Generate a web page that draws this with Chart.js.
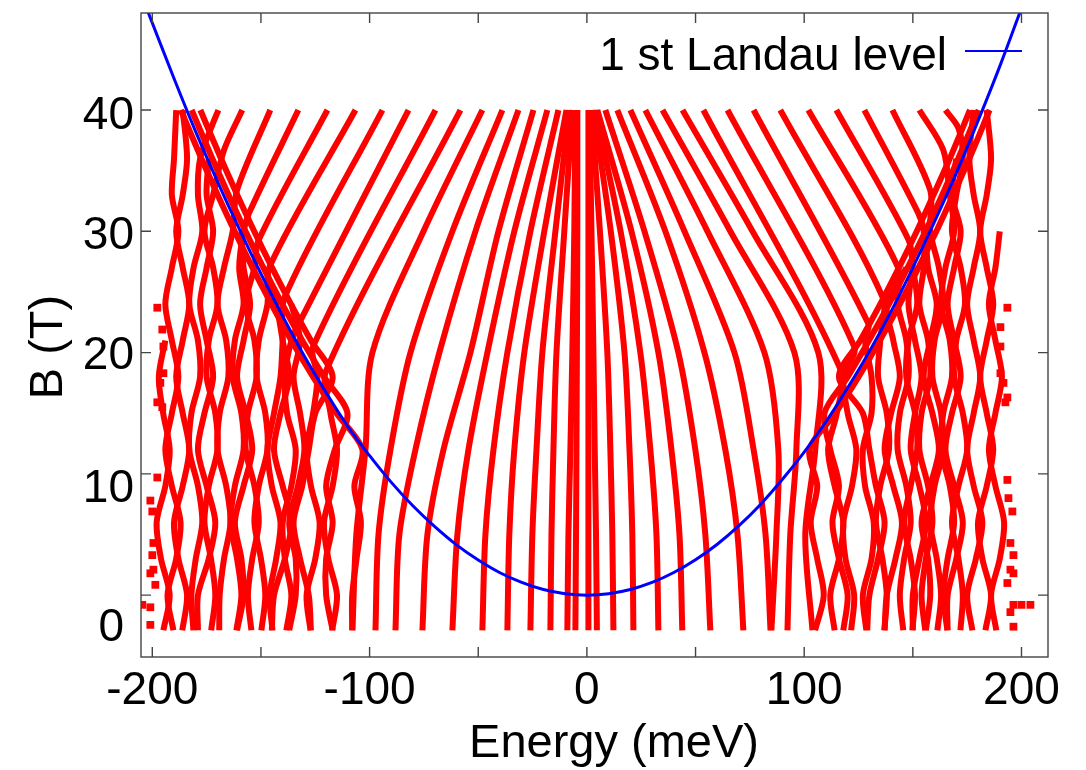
<!DOCTYPE html>
<html>
<head>
<meta charset="utf-8">
<script src="https://cdn.jsdelivr.net/npm/chart.js@4.4.1/dist/chart.umd.min.js"></script>
<style>
  html, body { margin: 0; padding: 0; background: #fff; }
</style>
</head>
<body>
<canvas id="chart" width="1086" height="770"></canvas>
<script>
// Landau levels vs field: energy (meV) on x, B (T) on y

// ticks
const xTicks = [-200, -150, -100, -50, 0, 50, 100, 150, 200];
const xTickLabels = [-200, -100, 0, 100, 200];
const yTicks = [0, 10, 20, 30, 40];
const yTickLabels = ['0', '10', '20', '30', '40'];
const yLabelAt = [-2.4, 9.05, 20.0, 29.9, 39.8];   // where the labels sit in the picture

// blue curve: 1st Landau level
const blueE = [-202, -190, -180, -170, -160, -150, -140, -130, -120, -110, -100, -90, -80, -70, -60, -50, -40, -30, -20, -10, 0,
               10, 20, 30, 40, 50, 60, 70, 80, 90, 100, 110, 120, 130, 140, 150, 160, 170, 180, 190, 200];
const blueB = [48.1, 42.6, 38.2, 34.1, 30.2, 26.5, 23.0, 19.7, 16.7, 13.9, 11.5, 9.3, 7.35, 5.65, 4.15, 2.9, 1.85, 1.05, 0.46, 0.12, 0,
               0.12, 0.47, 1.05, 1.87, 2.92, 4.2, 5.73, 7.5, 9.55, 11.8, 14.3, 17.1, 20.1, 23.4, 27.0, 30.8, 34.8, 39.1, 43.6, 48.4];

// inner fan of levels converging to zero energy (E at each fanB)
const fanB = [40, 30, 20, 12, 5, -2.9];
const fanLeft = [
  [-4.4, -4.4, -4.6, -4.8, -5.0, -5.3],
  [-5.3, -5.8, -6.7, -7.6, -8.5, -9.0],
  [-6.7, -10.4, -14.0, -15.4, -16.3, -16.8],
  [-8.1, -14.5, -20.5, -23.2, -25.1, -26.0],
  [-9.4, -19.6, -28.8, -33.4, -35.7, -36.6],
  [-13.1, -26.0, -36.6, -43.0, -46.7, -48.1],
  [-18.2, -33.4, -45.8, -54.5, -59.6, -61.9],
  [-24.6, -40.7, -53.6, -66.0, -73.4, -75.7],
  [-31.5, -51.3, -67.9, -78.9, -86.3, -88.1],
  [-38.9, -61.9, -81.2, -90.4, -95.9, -97.3],
  [-48.1, -75.2, -98.7, -101.9, -106.1, -107.9]
];
const fanRight = [
  [1.15, 2.1, 3.0, 3.6, 4.2, 4.6],
  [2.1, 6.0, 9.4, 10.8, 11.7, 12.2],
  [3.0, 11.0, 17.3, 19.6, 20.9, 21.4],
  [3.9, 15.5, 24.6, 29.2, 32.0, 32.9],
  [4.8, 20.5, 32.9, 38.9, 42.6, 43.9],
  [8.5, 26.5, 42.1, 49.9, 54.5, 56.8],
  [14.0, 36.1, 54.1, 63.7, 69.3, 72.0],
  [20.0, 44.9, 67.9, 76.7, 82.2, 84.5],
  [26.9, 55.5, 81.7, 88.1, 87.2, 84.9],
  [34.8, 66.0, 95.5, 96.4, 93.6, 92.3],
  [44.0, 76.2, 106.5, 105.1, 100.5, 103.8]
];
const centerE = [0.7, 0.7, 0.7, 0.7, 0.7, 0.7];

// outer levels: wiggly low-field part on outerB, then a kink and a straight run to B = 40
const outerB = [-2.9, 0, 3, 6, 9, 12, 15, 18, 21, 24, 27, 30, 33, 36, 40];
const diagRightTop = [53.6, 64.7, 76.7, 89.0, 101.9, 114.8, 127.7, 140.6, 153.0, 165.0];
const kinkRightE = [117, 123, 129.5, 136, 143, 148, 152.5, 158, 164, 171];
const kinkRightB = [18.5, 20.5, 22.4, 24.6, 27.1, 29.3, 31.5, 33.4, 36.7, 38.5];
const lowRight = [
  [114, 112, 116, 118, 114, 111, 115],
  [121.6, 123, 119, 118, 122, 124, 120, 118],
  [128.6, 127, 131, 132, 128, 127, 131, 131, 128],
  [136.9, 138, 136, 133, 135, 139, 138, 134, 135],
  [145.6, 144, 146, 149, 147, 143, 144, 148, 147, 143],
  [149.8, 151, 149, 146, 149, 152, 151, 147, 148, 152, 150],
  [155.7, 154, 156, 159, 157, 153, 154, 158, 157, 153, 155, 155],
  [161.3, 163, 161, 158, 160, 164, 163, 159, 160, 164, 162, 158],
  [165.9, 164, 166, 169, 167, 163, 164, 168, 167, 163, 165, 169, 167],
  [171.9, 173, 171, 168, 171, 175, 173, 169, 170, 174, 172, 168, 170, 173]
];
const fullRight = [
  [177.4, 175, 179, 182, 178, 175, 178, 181, 178, 175, 178, 181, 178, 176, 178],
  [183.4, 186, 182, 180, 184, 187, 184, 181, 184, 187, 184, 181, 184, 186, 184],
  [188.4, 186, 190, 192, 188, 185, 188, 191, 188, 185, 188, 190],
  [137, 138, 142, 145, 141, 137, 140, 144, 141, 138, 147],
  [156, 158, 157, 154, 158, 162, 159, 155, 158, 161, 157, 156],
  [166, 166, 170, 173, 169, 165, 168, 172, 169, 166, 169, 172, 168, 170],
  [150, 150, 153, 156, 153, 149, 151, 154, 151, 148, 150],
  // levels that ride along the blue curve
  [105, 109, 106, 103, 106, 102.4, 114.3, 125, 134.8, 144, 152.6, 160.8, 168.5, 176, 185.3],
  [118, 120, 116, 113, 116, 112, 109.3, 120, 129.8, 139, 147.6, 155.8, 163.5, 170.9, 180.3],
  [129, 130, 134, 137, 133, 130, 127, 116, 125.8, 135, 143.6, 151.8, 159.5, 167, 176.3]
];

const diagLeftTop = [-58.2, -69.7, -82.1, -94.1, -106.5, -119.4, -132.8, -145.7, -158.6, -169.6];
const kinkLeftE = [-120, -126, -132.5, -139, -146, -151, -155.5, -161, -167, -173];
const kinkLeftB = [18.5, 20.5, 22.4, 24.6, 27.1, 29.3, 31.5, 33.4, 36.7, 38.5];
const lowLeft = [
  [-117.2, -115, -119, -121, -117, -115, -118],
  [-127.2, -129, -125, -123, -127, -129, -126, -124],
  [-138.3, -136, -139, -140, -136, -134, -138, -139, -136],
  [-144.7, -146, -143, -141, -145, -147, -144, -141, -140],
  [-149.8, -148, -150, -153, -151, -147, -148, -152, -151, -147],
  [-154.4, -156, -154, -151, -153, -157, -156, -152, -153, -157, -153],
  [-161.3, -159, -161, -164, -162, -158, -159, -163, -162, -158, -160, -158],
  [-169.2, -169, -167, -164, -166, -170, -169, -165, -166, -170, -167, -163],
  [-172.9, -171, -173, -176, -174, -170, -171, -175, -174, -170, -172, -176, -172],
  [-181.1, -182, -180, -177, -179, -183, -182, -178, -179, -183, -181, -177, -179, -178]
];
const fullLeft = [
  [-186.2, -184, -188, -190, -186, -183, -186, -189, -186, -183, -186, -189, -186, -184, -186],
  [-190.3, -193, -189, -187, -191, -194, -191, -188, -191, -194, -191, -188, -191, -190, -189],
  [-194.9, -192, -196, -198, -194, -192, -195, -197, -194],
  [-145, -144, -139, -136, -140, -144, -141, -137, -140, -143, -148],
  [-161, -158, -159, -162, -158, -154, -157, -161, -158, -155, -158, -159],
  [-179, -179, -174, -171, -175, -179, -176, -172, -175, -178, -175, -172, -175, -174],
  [-137, -134, -134, -137, -133, -130, -132, -135, -132, -136],
  // levels that ride along the blue curve
  [-108, -108, -106, -104, -107, -103.3, -115.2, -126, -136, -145.2, -153.9, -162.1, -169.9, -177.4, -186.9],
  [-117, -120, -120, -117, -120, -116, -110.2, -121, -131, -140.2, -148.9, -157.1, -164.9, -172.4, -181.9],
  [-127, -128, -132, -135, -131, -128, -125, -117, -127, -136.2, -144.9, -153.1, -160.9, -168.4, -177.9]
];

// isolated points at the outer edges
const dotLeftE = [-194.9, -196.3, -197.7, -195.4, -197.7, -200.9, -200.0, -199.5, -200.0, -199.5, -200.9, -198.6, -204.6, -200.9, -200.9, -197.7, -195.4, -194.9];
const dotLeftB = [18.3, 17.5, 15.9, 15.5, 9.7, 7.8, 6.9, 4.3, 3.3, 2.1, 1.8, 0.85, -0.8, -1.0, -2.45, 23.7, 21.9, 20.5];
const dotRightE = [190.3, 191.7, 193.5, 192.6, 193.5, 194.0, 195.8, 194.9, 196.3, 194.9, 196.3, 193.5, 196.3, 200.0, 204.1, 194.9, 196.3, 193.5, 190.3, 190.3];
const dotRightB = [18.3, 17.5, 16.3, 15.9, 9.5, 8.0, 6.9, 4.3, 3.3, 2.1, 1.8, 1.0, -0.8, -0.8, -0.8, -1.4, -2.6, 23.7, 22.1, 20.5];

const RED = '#ff0000';
const BLUE = '#0000ff';
const FONT = '"Liberation Sans", Arial, sans-serif';

function redLine(pts) {
  return {
    data: pts, showLine: true, borderColor: RED, borderWidth: 6,
    pointRadius: 0, tension: 0.3, borderCapStyle: 'butt', borderJoinStyle: 'round'
  };
}
function onGrid(es, bs) {
  const pts = [];
  es.forEach((e, i) => { if (e !== null) pts.push({ x: e, y: bs[i] }); });
  return pts;
}

const datasets = [];
// blue first so it is drawn on top
datasets.push({
  data: blueE.map((e, i) => ({ x: e, y: blueB[i] })),
  showLine: true, borderColor: BLUE, borderWidth: 3, pointRadius: 0, tension: 0.4
});

fanLeft.concat(fanRight, [centerE]).forEach(es => datasets.push(redLine(onGrid(es, fanB))));

function kinked(low, kE, kB, top) {
  low.forEach((es, i) => {
    const pts = onGrid(es, outerB);
    pts.push({ x: kE[i], y: kB[i] }, { x: top[i], y: 40 });
    datasets.push(redLine(pts));
  });
}
kinked(lowRight, kinkRightE, kinkRightB, diagRightTop);
kinked(lowLeft, kinkLeftE, kinkLeftB, diagLeftTop);
fullRight.concat(fullLeft).forEach(es => datasets.push(redLine(onGrid(es, outerB))));

datasets.push({
  data: dotLeftE.map((e, i) => ({ x: e, y: dotLeftB[i] }))
        .concat(dotRightE.map((e, i) => ({ x: e, y: dotRightB[i] }))),
  showLine: false, pointStyle: 'rect', pointRadius: 5.5,
  backgroundColor: RED, borderWidth: 0
});

// frame, inward ticks, labels, titles and key in gnuplot style
const yLabelNudge = { '0': -10 };
const decor = {
  id: 'decor',
  afterDraw(chart) {
    const { ctx, chartArea: a, scales: { x, y } } = chart;
    ctx.save();
    ctx.strokeStyle = '#444';
    ctx.lineWidth = 1.4;
    ctx.strokeRect(a.left, a.top, a.right - a.left, a.bottom - a.top);
    ctx.beginPath();
    xTicks.forEach(v => {
      const px = x.getPixelForValue(v);
      ctx.moveTo(px, a.bottom); ctx.lineTo(px, a.bottom - 10);
      ctx.moveTo(px, a.top); ctx.lineTo(px, a.top + 10);
    });
    yTicks.forEach(v => {
      const py = y.getPixelForValue(v);
      ctx.moveTo(a.left, py); ctx.lineTo(a.left + 10, py);
      ctx.moveTo(a.right, py); ctx.lineTo(a.right - 10, py);
    });
    ctx.stroke();

    ctx.fillStyle = '#000';
    ctx.font = '46px ' + FONT;
    ctx.textBaseline = 'alphabetic';
    ctx.textAlign = 'center';
    xTickLabels.forEach(v => ctx.fillText(String(v), x.getPixelForValue(v), a.bottom + 47));
    ctx.textAlign = 'right';
    yTickLabels.forEach((t, i) =>
      ctx.fillText(t, a.left - 7 + (yLabelNudge[t] || 0), y.getPixelForValue(yLabelAt[i]) + 16.5));

    ctx.font = '47px ' + FONT;
    ctx.textAlign = 'center';
    ctx.fillText('Energy (meV)', 614, 757);
    ctx.save();
    ctx.translate(62, 347);
    ctx.rotate(-Math.PI / 2);
    ctx.fillText('B (T)', 0, 0);
    ctx.restore();

    // key
    ctx.font = '46px ' + FONT;
    ctx.textAlign = 'right';
    ctx.fillText('1 st Landau level', 947, 70);
    ctx.strokeStyle = BLUE;
    ctx.lineWidth = 2;
    ctx.beginPath();
    ctx.moveTo(965, 51); ctx.lineTo(1022, 51);
    ctx.stroke();
    ctx.restore();
  }
};

new Chart(document.getElementById('chart'), {
  type: 'scatter',
  data: { datasets },
  options: {
    responsive: false,
    animation: false,
    devicePixelRatio: 1,
    layout: { padding: { left: 141, right: 38, top: 13, bottom: 113 } },
    scales: {
      x: { type: 'linear', min: -205.2, max: 212.2, display: false },
      y: { type: 'linear', min: -5.1, max: 48, display: false }
    },
    plugins: { legend: { display: false }, tooltip: { enabled: false } }
  },
  plugins: [decor]
});
</script>
</body>
</html>
